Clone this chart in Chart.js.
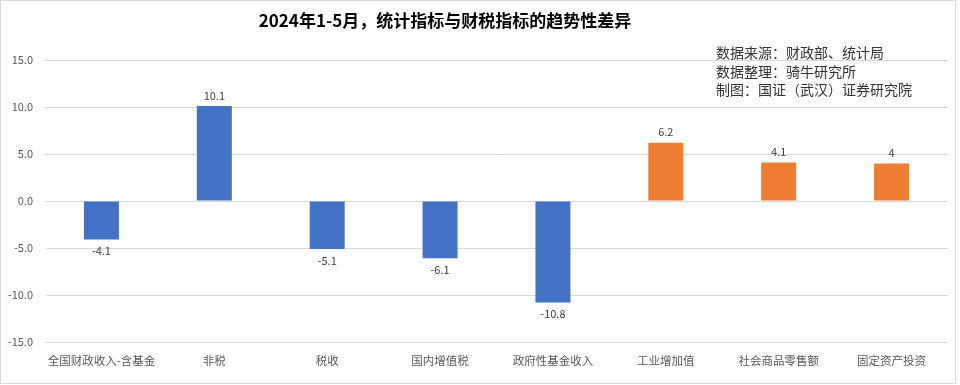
<!DOCTYPE html>
<html>
<head>
<meta charset="utf-8">
<script src="https://cdn.jsdelivr.net/npm/chart.js@4.4.1/dist/chart.umd.min.js"></script>
<style>
  body { margin: 0; background: #fff; }
  #wrap { width: 960px; height: 385px; position: relative; }
</style>
</head>
<body>
<div id="wrap"><canvas id="chart"></canvas></div>
<script>
const categories = ['全国财政收入-含基金', '非税', '税收', '国内增值税', '政府性基金收入', '工业增加值', '社会商品零售额', '固定资产投资'];
const diffValues = [-4.1, 10.1, -5.1, -6.1, -10.8, 6.2, 4.1, 4];
const barColors = ['#4472C4', '#4472C4', '#4472C4', '#4472C4', '#4472C4', '#ED7D31', '#ED7D31', '#ED7D31'];
const yTicks = [-15, -10, -5, 0, 5, 10, 15];
const titleText = '2024年1-5月，统计指标与财税指标的趋势性差异';
const sourceLines = ['数据来源：财政部、统计局', '数据整理：骑牛研究所', '制图：国证（武汉）证券研究院'];

const FONT = '"Noto Sans CJK SC", "Noto Sans", sans-serif';

// title, notes, frame and value labels
const decorPlugin = {
  id: 'decor',
  afterDraw(chart) {
    const ctx = chart.ctx;
    ctx.save();
    ctx.strokeStyle = '#d9d9d9';
    ctx.lineWidth = 1;
    ctx.strokeRect(0.5, 0.5, 955, 383);

    ctx.fillStyle = '#000';
    ctx.font = 'bold 17px ' + FONT;
    ctx.textAlign = 'center';
    ctx.textBaseline = 'middle';
    ctx.fillText(titleText, 445, 21);

    ctx.fillStyle = '#333';
    ctx.font = '14px ' + FONT;
    ctx.textAlign = 'left';
    sourceLines.forEach((s, i) => ctx.fillText(s, 716, 53 + i * 18.5));

    const meta = chart.getDatasetMeta(0);
    ctx.fillStyle = '#404040';
    ctx.font = '11px ' + FONT;
    ctx.textAlign = 'center';
    meta.data.forEach((bar, i) => {
      const v = diffValues[i];
      if (v >= 0) {
        ctx.textBaseline = 'bottom';
        ctx.fillText(String(v), bar.x, bar.y - 5);
      } else {
        ctx.textBaseline = 'top';
        ctx.fillText(String(v), bar.x, bar.y + 6);
      }
    });
    ctx.restore();
  }
};

new Chart(document.getElementById('chart'), {
  type: 'bar',
  data: {
    labels: categories,
    datasets: [{
      data: diffValues,
      backgroundColor: barColors,
      barPercentage: 0.62,
      categoryPercentage: 0.5
    }]
  },
  options: {
    responsive: true,
    maintainAspectRatio: false,
    animation: false,
    layout: { padding: { top: 60, right: 12, left: 0, bottom: 0 } },
    plugins: {
      legend: { display: false },
      tooltip: { enabled: false }
    },
    scales: {
      x: {
        grid: { display: false },
        border: { display: false },
        ticks: { color: '#595959', font: { size: 11.5, family: FONT }, padding: 4, maxRotation: 0, autoSkip: false },
        afterFit(scale) { scale.height = 43; }
      },
      y: {
        min: -15,
        max: 15,
        afterBuildTicks(scale) { scale.ticks = yTicks.map(v => ({ value: v })); },
        grid: { color: '#d9d9d9', drawTicks: false },
        border: { display: false },
        ticks: {
          color: '#595959',
          font: { size: 11, family: FONT },
          padding: 12,
          callback: v => v.toFixed(1)
        },
        afterFit(scale) { scale.width = 45; }
      }
    }
  },
  plugins: [decorPlugin]
});
</script>
</body>
</html>
